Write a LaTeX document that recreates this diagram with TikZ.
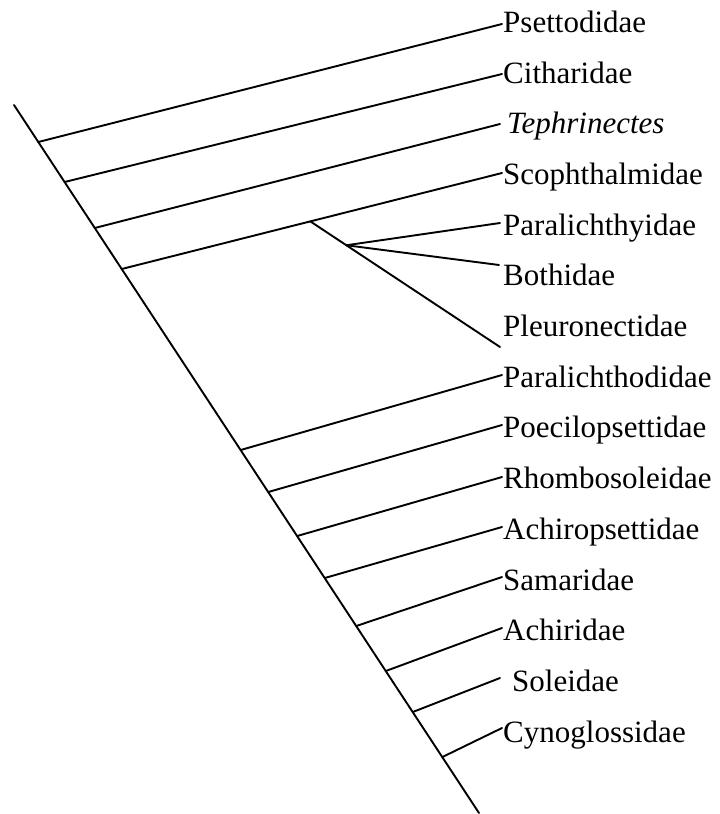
\documentclass[tikz,border=0pt]{standalone}
\usepackage{fontspec}
\setmainfont{Liberation Serif}
\usetikzlibrary{calc}
\begin{document}
\begin{tikzpicture}[x=1pt,y=-1pt,
  branch/.style={line width=1.9pt,line cap=round,line join=round},
  taxon/.style={anchor=base west,inner sep=0pt,font=\fontsize{31}{36}\selectfont}]
\useasboundingbox (0,0) rectangle (720,814);
% main stem
\coordinate (top) at (14,105);
\coordinate (bot) at (479,813);
\draw[branch] (top) -- (bot);
% branch points on the stem
\coordinate (b1) at (38.3,142);
\coordinate (b2) at (64.6,182);
\coordinate (b3) at (94.8,228);
\coordinate (b4) at (121.7,269);
\coordinate (b5) at (240.7,450);
\coordinate (b6) at (268.3,492);
\coordinate (b7) at (297.2,536);
\coordinate (b8) at (324.8,578);
\coordinate (b9) at (356.3,626);
\coordinate (b10) at (385.8,671);
\coordinate (b11) at (412.8,712);
\coordinate (b12) at (442.4,757);
% tip ends
\coordinate (e1) at (502,24);
\coordinate (e2) at (502,74);
\coordinate (e3) at (500,124);
\coordinate (e4) at (502,173);
\coordinate (e5) at (500,223);
\coordinate (e6) at (499,265);
\coordinate (e7) at (500,347);
\coordinate (e8) at (502,375);
\coordinate (e9) at (502,425);
\coordinate (e10) at (502,477);
\coordinate (e11) at (502,527);
\coordinate (e12) at (502,577);
\coordinate (e13) at (502,628);
\coordinate (e14) at (500,678);
\coordinate (e15) at (502,728);
% labels
\node[taxon] (t1) at (503,32.3) {Psettodidae};
\node[taxon] (t2) at (503,83.0) {Citharidae};
\node[taxon] (t3) at (507,133.7) {\itshape Tephrinectes};
\node[taxon] (t4) at (503,184.4) {Scophthalmidae};
\node[taxon] (t5) at (503,235.1) {Paralichthyidae};
\node[taxon] (t6) at (503,285.8) {Bothidae};
\node[taxon] (t7) at (503,336.5) {Pleuronectidae};
\node[taxon] (t8) at (503,387.2) {Paralichthodidae};
\node[taxon] (t9) at (503,437.9) {Poecilopsettidae};
\node[taxon] (t10) at (503,488.6) {Rhombosoleidae};
\node[taxon] (t11) at (503,539.3) {Achiropsettidae};
\node[taxon] (t12) at (503,590.0) {Samaridae};
\node[taxon] (t13) at (503,640.7) {Achiridae};
\node[taxon] (t14) at (512,691.4) {Soleidae};
\node[taxon] (t15) at (503,742.1) {Cynoglossidae};
% branches
\draw[branch] (b1) -- (e1);
\draw[branch] (b2) -- (e2);
\draw[branch] (b3) -- (e3);
\draw[branch] (b4) -- (e4);
\coordinate (nA) at ($(b4)!0.496!(e4)$);
\draw[branch] (nA) -- (e7);
\coordinate (nB) at ($(nA)!0.19!(e7)$);
\draw[branch] (nB) -- (e5);
\draw[branch] (nB) -- (e6);
\draw[branch] (b5) -- (e8);
\draw[branch] (b6) -- (e9);
\draw[branch] (b7) -- (e10);
\draw[branch] (b8) -- (e11);
\draw[branch] (b9) -- (e12);
\draw[branch] (b10) -- (e13);
\draw[branch] (b11) -- (e14);
\draw[branch] (b12) -- (e15);
\end{tikzpicture}
\end{document}
